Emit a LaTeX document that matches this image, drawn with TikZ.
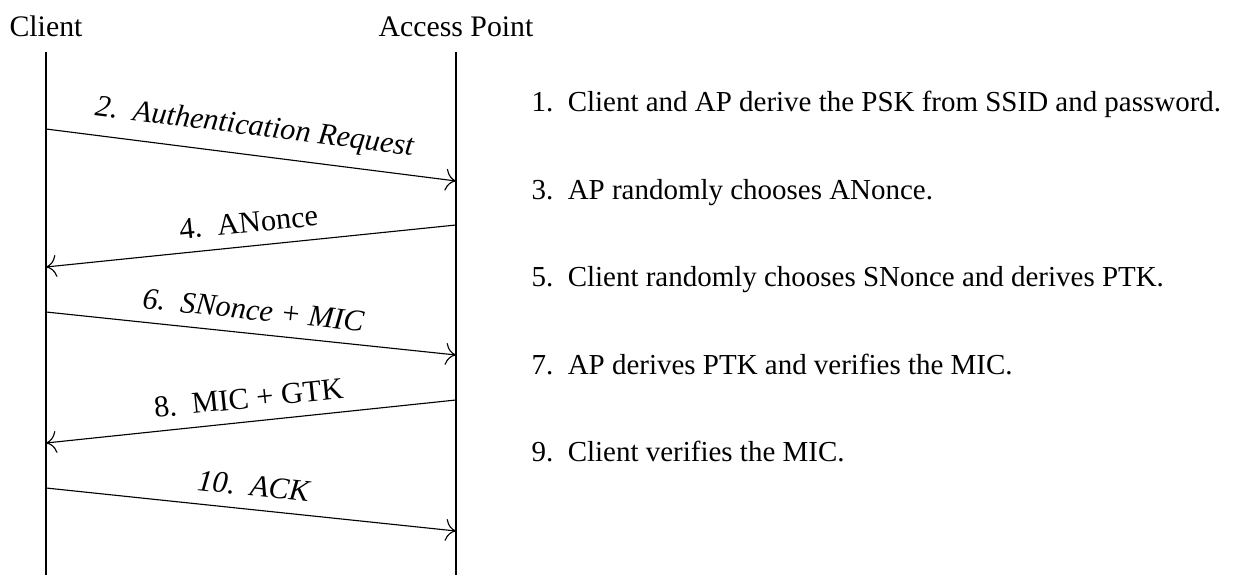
\documentclass[tikz,border=0pt]{standalone}
\usepackage{fontspec}
\setmainfont{Liberation Serif}
\usetikzlibrary{arrows.meta}
\tikzset{
  msg/.style={-{To[scale=1.5]}},
  msglabel/.style={sloped, above, inner sep=4.5pt, font=\fontsize{10.8}{13}\selectfont},
  step note/.style={anchor=base west, inner sep=0pt, font=\fontsize{10.3}{12.5}\selectfont},
  head/.style={anchor=base, font=\fontsize{10.6}{12.5}\selectfont}
}
\begin{document}
\begin{tikzpicture}[x=0.0125cm,y=-0.0125cm]
  \useasboundingbox (0,0) rectangle (1234,575);
  % heads and lifelines
  \node[head] (client) at (46,37) {Client};
  \node[head] (ap) at (456,37) {Access Point};
  \coordinate (ctop) at (46,52);
  \coordinate (cbot) at (46,575);
  \coordinate (atop) at (456,52);
  \coordinate (abot) at (456,575);
  \draw (ctop) -- (cbot);
  \draw (atop) -- (abot);
  % message ends
  \coordinate (c2) at (46,129);
  \coordinate (a2) at (456,181);
  \coordinate (a4) at (456,225);
  \coordinate (c4) at (46,267);
  \coordinate (c6) at (46,312);
  \coordinate (a6) at (456,355);
  \coordinate (a8) at (456,400);
  \coordinate (c8) at (46,443);
  \coordinate (c10) at (46,488);
  \coordinate (a10) at (456,531);
  % messages
  \draw[msg] (c2) -- node[msglabel] {\itshape 2.\ \ Authentication Request} (a2);
  \draw[msg] (a4) -- node[msglabel] {4.\ \ ANonce} (c4);
  \draw[msg] (c6) -- node[msglabel] {\itshape 6.\ \ SNonce + MIC} (a6);
  \draw[msg] (a8) -- node[msglabel] {8.\ \ MIC + GTK} (c8);
  \draw[msg] (c10) -- node[msglabel] {\itshape 10.\ \ ACK} (a10);
  % steps
  \node[step note] (s1) at (531,112) {1.\ \ Client and AP derive the PSK from SSID and password.};
  \node[step note] (s3) at (531,200) {3.\ \ AP randomly chooses ANonce.};
  \node[step note] (s5) at (531,287) {5.\ \ Client randomly chooses SNonce and derives PTK.};
  \node[step note] (s7) at (531,375) {7.\ \ AP derives PTK and verifies the MIC.};
  \node[step note] (s9) at (531,462) {9.\ \ Client verifies the MIC.};
\end{tikzpicture}
\end{document}
